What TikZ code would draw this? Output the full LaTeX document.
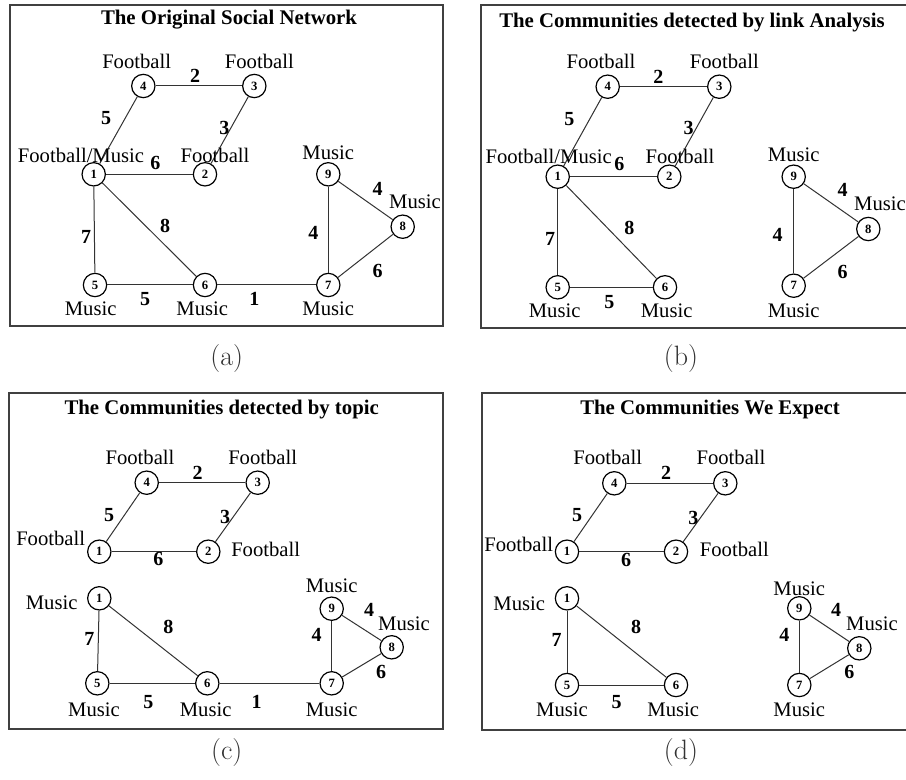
\documentclass[tikz,border=0pt]{standalone}
\usepackage{fontspec}
\newfontfamily\tms{Liberation Serif}
\begin{document}
\begin{tikzpicture}[x=0.75pt,y=-0.75pt,
  vtx/.style={circle,draw=black,line width=0.9pt,fill=white,inner sep=0pt,
    minimum size=17.5pt,font=\tms\bfseries\fontsize{9.5}{10}\selectfont},
  lbl/.style={inner sep=0pt,font=\tms\fontsize{15.5}{16}\selectfont},
  wgt/.style={inner sep=0pt,font=\tms\bfseries\fontsize{15}{16}\selectfont},
  ttl/.style={inner sep=0pt,font=\tms\bfseries\fontsize{15.6}{17}\selectfont},
  subcap/.style={inner sep=0pt,font=\fontsize{21}{24}\selectfont,text=black!80},
  frame/.style={draw=black!75,line width=1.5pt},
  link/.style={draw=black!80,line width=0.75pt}]
\useasboundingbox (0,0) rectangle (906,780);

% ---------- (a) The original social network ----------
\draw[frame] (10,5) rectangle (443,326);
\node[ttl] (ta) at (229,20) {The Original Social Network};
\node[vtx] (a1) at (93.7,174.3) {1};
\node[vtx] (a2) at (205,174.3) {2};
\node[vtx] (a3) at (254.3,86) {3};
\node[vtx] (a4) at (143.3,86) {4};
\node[vtx] (a5) at (95,285) {5};
\node[vtx] (a6) at (205,285) {6};
\node[vtx] (a7) at (328.3,285) {7};
\node[vtx] (a8) at (402.7,226.7) {8};
\node[vtx] (a9) at (328.3,174.3) {9};
\draw[link] (a4) -- (a3);
\draw[link] (a1) -- (a4);
\draw[link] (a2) -- (a3);
\draw[link] (a1) -- (a2);
\draw[link] (a1) -- (a5);
\draw[link] (a1) -- (a6);
\draw[link] (a5) -- (a6);
\draw[link] (a6) -- (a7);
\draw[link] (a9) -- (a7);
\draw[link] (a9) -- (a8);
\draw[link] (a7) -- (a8);
\node[lbl] (la4) at (136.7,61) {Football};
\node[lbl] (la3) at (259.3,61) {Football};
\node[lbl] (la1) at (81,155) {Football/Music};
\node[lbl] (la2) at (215,155) {Football};
\node[lbl] (la9) at (328.3,152.7) {Music};
\node[lbl] (la8) at (415,202) {Music};
\node[lbl] (la5) at (90.7,308.3) {Music};
\node[lbl] (la6) at (202.3,308.3) {Music};
\node[lbl] (la7) at (328.3,308.3) {Music};
\node[wgt] (wa43) at (195,76) {2};
\node[wgt] (wa14) at (106,117.7) {5};
\node[wgt] (wa23) at (224.3,127.7) {3};
\node[wgt] (wa12) at (155.3,163.3) {6};
\node[wgt] (wa16) at (165,226) {8};
\node[wgt] (wa15) at (86,237.3) {7};
\node[wgt] (wa56) at (145,299) {5};
\node[wgt] (wa67) at (254.3,299) {1};
\node[wgt] (wa98) at (377.7,189) {4};
\node[wgt] (wa97) at (313.3,232.7) {4};
\node[wgt] (wa78) at (377.7,270.7) {6};
\node[subcap] (ca) at (226.7,359) {(a)};

% ---------- (b) Communities detected by link analysis ----------
\draw[frame] (481,5) rectangle (912,327.7);
\node[ttl] (tb) at (692,23) {The Communities detected by link Analysis};
\node[vtx] (b1) at (557.7,176.7) {1};
\node[vtx] (b2) at (669.3,176.7) {2};
\node[vtx] (b3) at (719.3,86.7) {3};
\node[vtx] (b4) at (607.7,86.7) {4};
\node[vtx] (b5) at (557.7,287.3) {5};
\node[vtx] (b6) at (665,287.3) {6};
\node[vtx] (b7) at (793.7,285.7) {7};
\node[vtx] (b8) at (868.3,229) {8};
\node[vtx] (b9) at (793.7,176.7) {9};
\draw[link] (b4) -- (b3);
\draw[link] (b1) -- (b4);
\draw[link] (b2) -- (b3);
\draw[link] (b1) -- (b2);
\draw[link] (b1) -- (b5);
\draw[link] (b1) -- (b6);
\draw[link] (b5) -- (b6);
\draw[link] (b9) -- (b7);
\draw[link] (b9) -- (b8);
\draw[link] (b7) -- (b8);
\node[lbl] (lb4) at (601,61.7) {Football};
\node[lbl] (lb3) at (724.3,61.7) {Football};
\node[lbl] (lb1) at (548.7,156) {Football/Music};
\node[lbl] (lb2) at (680,156) {Football};
\node[lbl] (lb9) at (793.7,154.3) {Music};
\node[lbl] (lb8) at (880,203.3) {Music};
\node[lbl] (lb5) at (554.7,310.7) {Music};
\node[lbl] (lb6) at (666.7,310.7) {Music};
\node[lbl] (lb7) at (793.7,310.7) {Music};
\node[wgt] (wb43) at (658.3,77.3) {2};
\node[wgt] (wb14) at (569.3,119.3) {5};
\node[wgt] (wb23) at (688.7,128.3) {3};
\node[wgt] (wb12) at (619.3,164) {6};
\node[wgt] (wb16) at (629.3,227.7) {8};
\node[wgt] (wb15) at (550,239) {7};
\node[wgt] (wb56) at (609.3,301.7) {5};
\node[wgt] (wb98) at (842.7,190) {4};
\node[wgt] (wb97) at (777.7,235) {4};
\node[wgt] (wb78) at (842.7,271.7) {6};
\node[subcap] (cb) at (681,359) {(b)};

% ---------- (c) Communities detected by topic ----------
\draw[frame] (9,393.3) rectangle (442.5,729);
\node[ttl] (tc) at (221.7,410) {The Communities detected by topic};
\node[vtx] (c1f) at (99.3,551.7) {1};
\node[vtx] (c2) at (208.3,551.7) {2};
\node[vtx] (c3) at (257.7,482.7) {3};
\node[vtx] (c4) at (146.7,482.7) {4};
\node[vtx] (c1m) at (99.3,598.3) {1};
\node[vtx] (c5) at (97.3,683.3) {5};
\node[vtx] (c6) at (207.3,683.3) {6};
\node[vtx] (c7) at (331.7,683.3) {7};
\node[vtx] (c8) at (391.7,647.3) {8};
\node[vtx] (c9) at (331.7,608.7) {9};
\draw[link] (c4) -- (c3);
\draw[link] (c1f) -- (c4);
\draw[link] (c2) -- (c3);
\draw[link] (c1f) -- (c2);
\draw[link] (c1m) -- (c5);
\draw[link] (c1m) -- (c6);
\draw[link] (c5) -- (c6);
\draw[link] (c6) -- (c7);
\draw[link] (c9) -- (c7);
\draw[link] (c9) -- (c8);
\draw[link] (c7) -- (c8);
\node[lbl] (lc4) at (140,457.3) {Football};
\node[lbl] (lc3) at (262.7,457.3) {Football};
\node[lbl] (lc1f) at (50.7,538.3) {Football};
\node[lbl] (lc2) at (265.7,549.3) {Football};
\node[lbl] (lc1m) at (51.7,602.7) {Music};
\node[lbl] (lc9) at (331.7,585.7) {Music};
\node[lbl] (lc8) at (404,624) {Music};
\node[lbl] (lc5) at (94,709.3) {Music};
\node[lbl] (lc6) at (205.7,709.3) {Music};
\node[lbl] (lc7) at (331.7,709.3) {Music};
\node[wgt] (wc43) at (197.7,472.7) {2};
\node[wgt] (wc14) at (109,515) {5};
\node[wgt] (wc23) at (225,516.7) {3};
\node[wgt] (wc12) at (158.3,559.3) {6};
\node[wgt] (wc16) at (168.3,627.3) {8};
\node[wgt] (wc15) at (89.3,639.3) {7};
\node[wgt] (wc56) at (148.3,701.7) {5};
\node[wgt] (wc67) at (256.7,701.7) {1};
\node[wgt] (wc98) at (369,610) {4};
\node[wgt] (wc97) at (316.7,635) {4};
\node[wgt] (wc78) at (381,671.7) {6};
\node[subcap] (cc) at (226.7,753) {(c)};

% ---------- (d) Communities we expect ----------
\draw[frame] (482,393.3) rectangle (912,729.5);
\node[ttl] (td) at (710,409.3) {The Communities We Expect};
\node[vtx] (d1f) at (567,551.7) {1};
\node[vtx] (d2) at (676,551.7) {2};
\node[vtx] (d3) at (725.3,483.3) {3};
\node[vtx] (d4) at (614.3,483.3) {4};
\node[vtx] (d1m) at (567,598.3) {1};
\node[vtx] (d5) at (567,685) {5};
\node[vtx] (d6) at (676,685) {6};
\node[vtx] (d7) at (799.3,685) {7};
\node[vtx] (d8) at (859.3,648.3) {8};
\node[vtx] (d9) at (799.3,608.3) {9};
\draw[link] (d4) -- (d3);
\draw[link] (d1f) -- (d4);
\draw[link] (d2) -- (d3);
\draw[link] (d1f) -- (d2);
\draw[link] (d1m) -- (d5);
\draw[link] (d1m) -- (d6);
\draw[link] (d5) -- (d6);
\draw[link] (d9) -- (d7);
\draw[link] (d9) -- (d8);
\draw[link] (d7) -- (d8);
\node[lbl] (ld4) at (607.7,457.3) {Football};
\node[lbl] (ld3) at (731,457.3) {Football};
\node[lbl] (ld1f) at (518.7,544) {Football};
\node[lbl] (ld2) at (734.3,549.3) {Football};
\node[lbl] (ld1m) at (519.3,603.3) {Music};
\node[lbl] (ld9) at (799.3,588.3) {Music};
\node[lbl] (ld8) at (872,624) {Music};
\node[lbl] (ld5) at (562,710) {Music};
\node[lbl] (ld6) at (673.3,710) {Music};
\node[lbl] (ld7) at (799.3,710) {Music};
\node[wgt] (wd43) at (666,472.7) {2};
\node[wgt] (wd14) at (577,515) {5};
\node[wgt] (wd23) at (693.3,517.7) {3};
\node[wgt] (wd12) at (626,560) {6};
\node[wgt] (wd16) at (636,627.3) {8};
\node[wgt] (wd15) at (556.7,640) {7};
\node[wgt] (wd56) at (616.7,701.7) {5};
\node[wgt] (wd98) at (836,610) {4};
\node[wgt] (wd97) at (784.3,635) {4};
\node[wgt] (wd78) at (849.3,671.7) {6};
\node[subcap] (cd) at (681,753) {(d)};
\end{tikzpicture}
\end{document}
